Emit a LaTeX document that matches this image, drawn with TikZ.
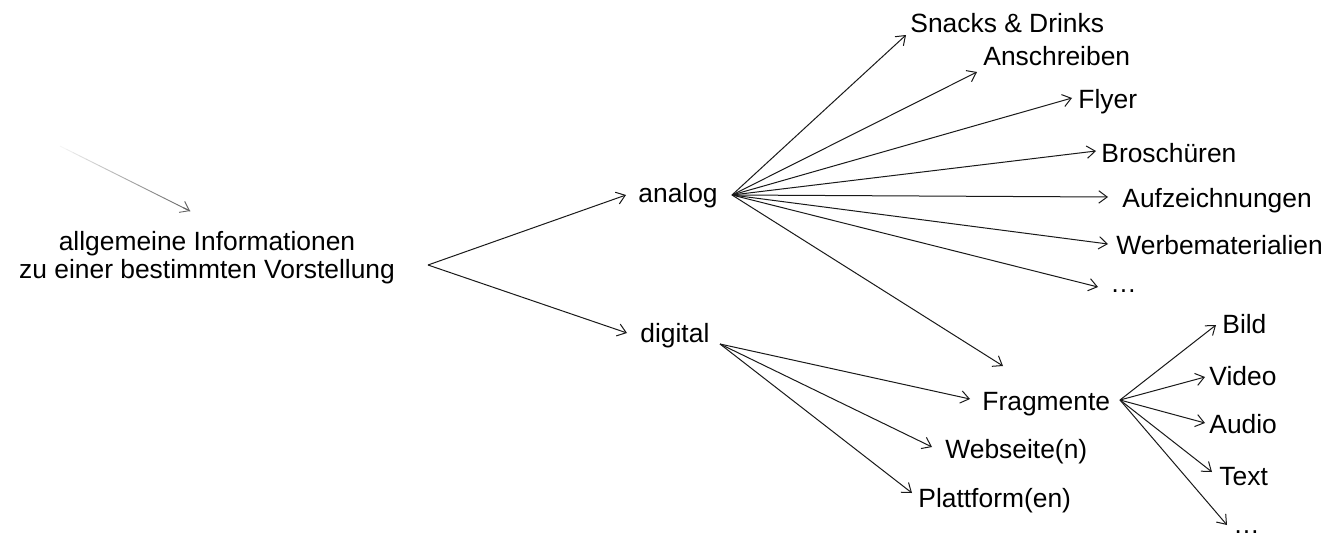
\documentclass[tikz,border=0pt]{standalone}
\usepackage{fontspec}
\setmainfont{Liberation Sans}
\usetikzlibrary{arrows.meta,calc}
\begin{document}
\begin{tikzpicture}[x=0.5pt,y=-0.5pt,
  lbl/.style={inner sep=0pt,anchor=base west,font=\fontsize{13.2}{14}\selectfont},
  arr/.style={-{Straight Barb[length=4.2pt,width=6.2pt]},line width=0.5pt,black!90}]
\useasboundingbox (0,0) rectangle (1328,536);
% main node
\node[inner sep=0pt,align=center,font=\fontsize{13.2}{14}\selectfont] (main) at (207,258)
  {allgemeine Informationen\\zu einer bestimmten Vorstellung};
\coordinate (mO) at (428,265);
% gray faded arrow
\coordinate (gS) at (60,146);
\coordinate (gE) at (190,211);
\foreach \i in {0,...,19}{
  \pgfmathsetmacro{\c}{4+3*\i}
  \draw[line width=0.45pt,black!\c] ($(gS)!\i/20!(gE)$) -- ($(gS)!\i/20+0.052!(gE)$);
}
\draw[-{Straight Barb[length=4.2pt,width=6.2pt]},line width=0.45pt,black!60] ($(gS)!0.95!(gE)$) -- (gE);
% level 1
\node[lbl] (analog) at (638,202) {analog};
\node[lbl] (digital) at (640,342) {digital};
\coordinate (aT) at (626,195);
\coordinate (dT) at (627,333);
\draw[arr] (mO) -- (aT);
\draw[arr] (mO) -- (dT);
% analog children
\coordinate (aO) at (732,195);
\node[lbl] (snacks) at (910,32) {Snacks \& Drinks};
\node[lbl] (ansch) at (983,65) {Anschreiben};
\node[lbl] (flyer) at (1078,108) {Flyer};
\node[lbl] (brosch) at (1101,162) {Broschüren};
\node[lbl] (aufz) at (1122,207) {Aufzeichnungen};
\node[lbl] (werbe) at (1116,254) {Werbematerialien};
\node[lbl] (adots) at (1110,292) {…};
\node[lbl] (frag) at (982,410) {Fragmente};
\coordinate (t1) at (906,35);
\coordinate (t2) at (977,72);
\coordinate (t3) at (1072,98);
\coordinate (t4) at (1096,151);
\coordinate (t5) at (1108,197);
\coordinate (t6) at (1108,244);
\coordinate (t7) at (1098,287);
\coordinate (t8) at (1003,366);
\foreach \t in {t1,t2,t3,t4,t5,t6,t7,t8} \draw[arr] (aO) -- (\t);
% digital children
\coordinate (dO) at (720,344);
\node[lbl] (web) at (945,458) {Webseite(n)};
\node[lbl] (platt) at (918,507) {Plattform(en)};
\coordinate (u1) at (970,399);
\coordinate (u2) at (932,447);
\coordinate (u3) at (912,493);
\foreach \t in {u1,u2,u3} \draw[arr] (dO) -- (\t);
% Fragmente children
\coordinate (fO) at (1120,400);
\node[lbl] (bild) at (1222,333) {Bild};
\node[lbl] (video) at (1209,385) {Video};
\node[lbl] (audio) at (1209,433) {Audio};
\node[lbl] (text) at (1219,485) {Text};
\node[lbl] (fdots) at (1233,533) {…};
\coordinate (v1) at (1216,325);
\coordinate (v2) at (1205,377);
\coordinate (v3) at (1205,423);
\coordinate (v4) at (1212,472);
\coordinate (v5) at (1227,525);
\foreach \t in {v1,v2,v3,v4,v5} \draw[arr] (fO) -- (\t);
\end{tikzpicture}
\end{document}
